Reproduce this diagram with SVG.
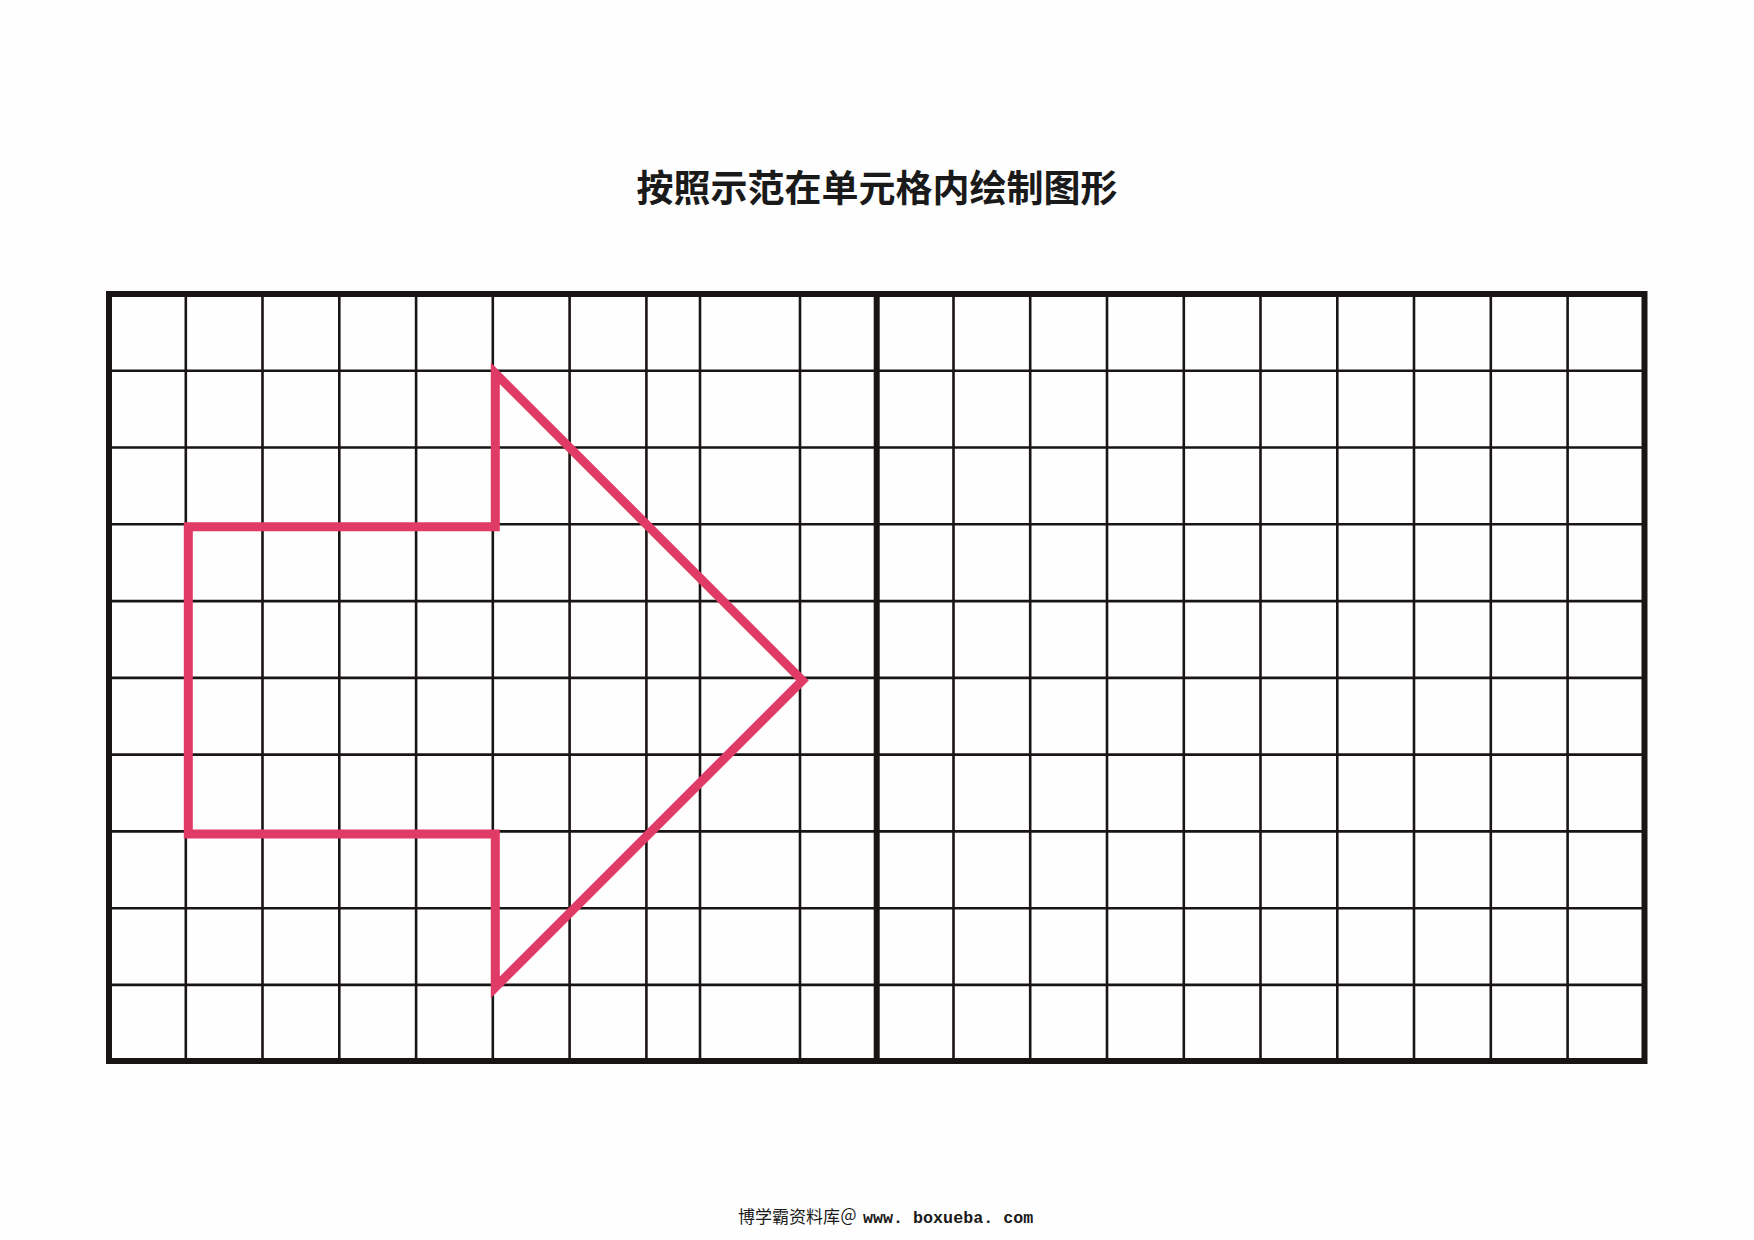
<svg xmlns="http://www.w3.org/2000/svg" width="1754" height="1240" viewBox="0 0 1754 1240">
<style>
.thin{stroke:#1a1515;stroke-width:2.6;fill:none}
.thick{stroke:#1a1515;stroke-width:6;fill:none;stroke-linecap:square}
.arrow{stroke:#e03a66;stroke-width:9;fill:none;stroke-linejoin:miter}
.title{font-family:"Noto Sans CJK SC","Noto Sans",sans-serif;font-size:37px;font-weight:700;fill:#1a1a1a}
.foot{font-family:"Noto Sans CJK SC",sans-serif;font-size:17px;fill:#1a1a1a}
.mono{font-family:"Liberation Mono","DejaVu Sans Mono",monospace;font-size:16.7px;font-weight:700;fill:#1a1a1a}
</style>
<rect width="1754" height="1240" fill="#fefefe"/>
<g id="title"><text class="title" x="877" y="202" text-anchor="middle">按照示范在单元格内绘制图形</text></g>
<g id="grid">
<path class="thin" d="M185.8 294V1061M262.5 294V1061M339.3 294V1061M416.1 294V1061M492.8 294V1061M569.6 294V1061M646.4 294V1061M700 294V1061M800 294V1061M953.5 294V1061M1030.2 294V1061M1107 294V1061M1183.8 294V1061M1260.5 294V1061M1337.3 294V1061M1414 294V1061M1490.8 294V1061M1567.6 294V1061"/>
<path class="thin" d="M109 370.8H1644.5M109 447.5H1644.5M109 524.3H1644.5M109 601.1H1644.5M109 677.9H1644.5M109 754.6H1644.5M109 831.4H1644.5M109 908.2H1644.5M109 984.9H1644.5"/>
<rect class="thick" x="109" y="294" width="1535.5" height="767"/>
<path class="thick" d="M876.7 294V1061"/>
</g>
<g id="arrow-shape">
<polygon class="arrow" points="495.3,373.3 495.3,526.8 188.3,526.8 188.3,833.9 495.3,833.9 495.3,987.4 802.4,680.4"/>
</g>
<g id="footer">
<text class="foot" x="738" y="1223">博学霸资料库</text>
<text class="foot" x="840" y="1223" font-size="19">＠</text>
<text class="mono" x="863" y="1223">www. boxueba. com</text>
</g>
</svg>
